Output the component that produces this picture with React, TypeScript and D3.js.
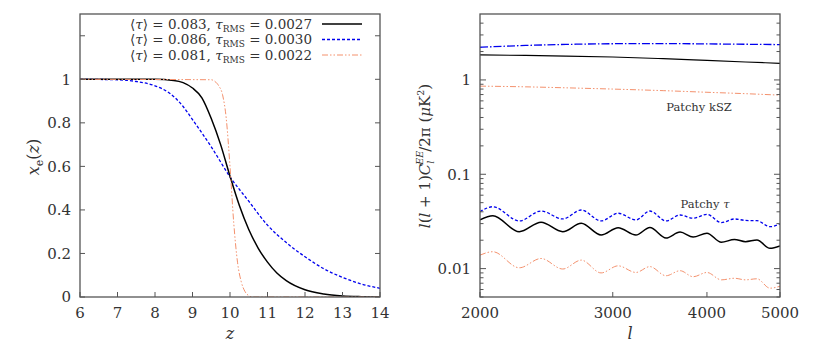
import React from 'react';
import * as d3 from 'd3';

// left panel: ionisation fraction x_e(z)
const zBlack = [6, 7, 8, 8.5, 8.75, 9, 9.25, 9.5, 9.75, 10, 10.25, 10.5, 10.75, 11, 11.25, 11.5, 12, 12.5, 13, 13.5, 14];
const xeBlack = [1, 1, 1, 0.995, 0.985, 0.96, 0.915, 0.82, 0.7, 0.555, 0.42, 0.31, 0.225, 0.16, 0.11, 0.075, 0.033, 0.014, 0.005, 0.0015, 0];
const zBlue = [6, 7, 7.5, 8, 8.4, 8.75, 9, 9.5, 10, 10.5, 11, 11.5, 12, 12.5, 13, 13.5, 14];
const xeBlue = [1, 0.998, 0.99, 0.97, 0.935, 0.875, 0.815, 0.69, 0.552, 0.44, 0.33, 0.25, 0.185, 0.13, 0.09, 0.06, 0.04];
const zOrange = [6, 9.5, 9.6, 9.7, 9.8, 9.9, 10, 10.1, 10.2, 10.3, 10.4, 10.5, 10.6, 14];
const xeOrange = [1, 0.998, 0.99, 0.97, 0.93, 0.82, 0.6, 0.34, 0.16, 0.07, 0.025, 0.006, 0, 0];

const legendTau = ['0.083', '0.086', '0.081'];
const legendRms = ['0.0027', '0.0030', '0.0022'];

const zTicks = [6, 7, 8, 9, 10, 11, 12, 13, 14];
const xeTicks = [0, 0.2, 0.4, 0.6, 0.8, 1, 1.2];
const xeTickLabels = ['0', '0.2', '0.4', '0.6', '0.8', '1', ''];

// right panel: EE spectra
const lKsz = [2000, 2300, 2600, 3000, 3500, 4000, 4500, 5000];
const kszBlack = [1.84, 1.82, 1.79, 1.75, 1.68, 1.61, 1.55, 1.5];
const kszBlue = [2.22, 2.32, 2.38, 2.42, 2.43, 2.41, 2.39, 2.37];
const kszOrange = [0.86, 0.845, 0.825, 0.8, 0.77, 0.74, 0.715, 0.69];

const lTau = [2000, 2080, 2255, 2410, 2575, 2725, 2895, 3050, 3220, 3360, 3530, 3685, 3835, 4000, 4180, 4350, 4500, 4660, 4850, 5000];
const tauBlack = [0.0328, 0.0364, 0.0246, 0.031, 0.0246, 0.0302, 0.0227, 0.0271, 0.0227, 0.0273, 0.0211, 0.0244, 0.0216, 0.0237, 0.019, 0.0204, 0.0193, 0.0201, 0.0164, 0.0174];
const tauBlue = [0.0401, 0.0453, 0.032, 0.0408, 0.0336, 0.0418, 0.032, 0.0386, 0.0328, 0.0408, 0.032, 0.037, 0.0342, 0.0376, 0.0307, 0.0336, 0.0324, 0.0322, 0.0278, 0.0297];
const tauOrange = [0.0139, 0.0151, 0.0102, 0.0128, 0.0099, 0.0123, 0.009, 0.0107, 0.0091, 0.0105, 0.0084, 0.0095, 0.0082, 0.0091, 0.0076, 0.0079, 0.0076, 0.0078, 0.0062, 0.0065];

const lTicks = [2000, 3000, 4000, 5000];
const clMajor = [0.01, 0.1, 1];
const clMajorLabels = ['0.01', '0.1', '1'];
const clMinor = [0.005, 0.006, 0.007, 0.008, 0.009, 0.02, 0.03, 0.04, 0.05, 0.06, 0.07, 0.08, 0.09, 0.2, 0.3, 0.4, 0.5, 0.6, 0.7, 0.8, 0.9, 2, 3, 4];

const BLUE = '#0000ee';
const ORANGE = '#f4916d';
const TEXT = '#333';
const FRAME = '#555';
const FONT = "'DejaVu Serif', 'Liberation Serif', serif";

const left = { x0: 80, x1: 380, y0: 14, y1: 297 };
const right = { x0: 480, x1: 780, y0: 14, y1: 297 };

export default function App() {
    const x = d3.scaleLinear().domain([6, 14]).range([left.x0, left.x1]);
    const y = d3.scaleLinear().domain([0, 1.3]).range([left.y1, left.y0]);
    const lx = d3.scaleLog().domain([2000, 5000]).range([right.x0, right.x1]);
    const ly = d3.scaleLog().domain([0.005, 5]).range([right.y1, right.y0]);

    const xeLine = (zs: number[], vs: number[]) =>
        d3.line<number>()
            .x((d, i) => x(zs[i]))
            .y((d) => y(d))
            .curve(d3.curveMonotoneX)(vs) || '';
    const clLine = (ls: number[], vs: number[]) =>
        d3.line<number>()
            .x((d, i) => lx(ls[i]))
            .y((d) => ly(d))
            .curve(d3.curveMonotoneX)(vs) || '';

    const legendStyles = [
        { stroke: '#000', width: 1.5, dash: undefined },
        { stroke: BLUE, width: 1.3, dash: '3,2' },
        { stroke: ORANGE, width: 1, dash: '6,2,1.5,2,1.5,2' },
    ];

    return (
        <svg width={821} height={347} style={{ position: 'absolute', left: 0, top: 0, background: '#fff', fontFamily: FONT }}>
            <defs>
                <clipPath id="clipL">
                    <rect x={left.x0} y={left.y0} width={left.x1 - left.x0} height={left.y1 - left.y0} />
                </clipPath>
                <clipPath id="clipR">
                    <rect x={right.x0} y={right.y0} width={right.x1 - right.x0} height={right.y1 - right.y0} />
                </clipPath>
            </defs>

            {/* ---------- left panel ---------- */}
            <g clipPath="url(#clipL)" fill="none">
                <path d={xeLine(zBlue, xeBlue)} stroke={BLUE} strokeWidth={1.3} strokeDasharray="3,2" />
                <path d={xeLine(zBlack, xeBlack)} stroke="#000" strokeWidth={1.5} />
                <path d={xeLine(zOrange, xeOrange)} stroke={ORANGE} strokeWidth={1} strokeDasharray="6,2,1.5,2,1.5,2" />
            </g>
            {zTicks.map((t) => (
                <g key={'zt' + t}>
                    <line x1={x(t)} x2={x(t)} y1={left.y1} y2={left.y1 - 5} stroke={FRAME} />
                    <text x={x(t)} y={left.y1 + 21} textAnchor="middle" fontSize={15} fill={TEXT}>{t}</text>
                </g>
            ))}
            {xeTicks.map((t, i) => (
                <g key={'yt' + t}>
                    <line x1={left.x0} x2={left.x0 + 5} y1={y(t)} y2={y(t)} stroke={FRAME} />
                    <line x1={left.x1} x2={left.x1 - 5} y1={y(t)} y2={y(t)} stroke={FRAME} />
                    <text x={left.x0 - 9} y={y(t)} dy="0.35em" textAnchor="end" fontSize={15} fill={TEXT}>{xeTickLabels[i]}</text>
                </g>
            ))}
            <rect x={left.x0} y={left.y0} width={left.x1 - left.x0} height={left.y1 - left.y0} fill="none" stroke={FRAME} strokeWidth={1.3} />
            <text x={(left.x0 + left.x1) / 2} y={339} textAnchor="middle" fontSize={16} fontStyle="italic" fill={TEXT}>z</text>
            <text transform="translate(39,157) rotate(-90)" textAnchor="middle" fontSize={16} fill={TEXT}>
                <tspan fontStyle="italic">x</tspan>
                <tspan fontSize={11} dy={4}>e</tspan>
                <tspan dy={-4}>(</tspan>
                <tspan fontStyle="italic">z</tspan>
                <tspan>)</tspan>
            </text>

            {legendTau.map((tau, i) => {
                const ry = 24 + i * 15.5;
                const st = legendStyles[i];
                return (
                    <g key={'lg' + i}>
                        <text x={312} y={ry} dy="0.35em" textAnchor="end" fontSize={13.5} fill={TEXT}>
                            <tspan>⟨</tspan>
                            <tspan fontStyle="italic">τ</tspan>
                            <tspan>{'⟩ = ' + tau + ', '}</tspan>
                            <tspan fontStyle="italic">τ</tspan>
                            <tspan fontSize={9} dy={3}>RMS</tspan>
                            <tspan dy={-3}>{' = ' + legendRms[i]}</tspan>
                        </text>
                        <line x1={322} x2={362} y1={ry} y2={ry} stroke={st.stroke} strokeWidth={st.width} strokeDasharray={st.dash} />
                    </g>
                );
            })}

            {/* ---------- right panel ---------- */}
            <g clipPath="url(#clipR)" fill="none">
                <path d={clLine(lKsz, kszBlue)} stroke={BLUE} strokeWidth={1.3} strokeDasharray="8,2,1.5,2" />
                <path d={clLine(lKsz, kszBlack)} stroke="#000" strokeWidth={1.2} />
                <path d={clLine(lKsz, kszOrange)} stroke={ORANGE} strokeWidth={1} strokeDasharray="6,2,1.5,2,1.5,2" />
                <path d={clLine(lTau, tauBlue)} stroke={BLUE} strokeWidth={1.3} strokeDasharray="3,2" />
                <path d={clLine(lTau, tauBlack)} stroke="#000" strokeWidth={1.5} />
                <path d={clLine(lTau, tauOrange)} stroke={ORANGE} strokeWidth={1} strokeDasharray="6,2,1.5,2,1.5,2" />
            </g>
            {lTicks.map((t) => (
                <g key={'lt' + t}>
                    <line x1={lx(t)} x2={lx(t)} y1={right.y1} y2={right.y1 - 5} stroke={FRAME} />
                    <text x={lx(t)} y={right.y1 + 21} textAnchor="middle" fontSize={15} fill={TEXT}>{t}</text>
                </g>
            ))}
            {clMajor.map((t, i) => (
                <g key={'cm' + t}>
                    <line x1={right.x0} x2={right.x0 + 6} y1={ly(t)} y2={ly(t)} stroke={FRAME} />
                    <line x1={right.x1} x2={right.x1 - 6} y1={ly(t)} y2={ly(t)} stroke={FRAME} />
                    <text x={right.x0 - 9} y={ly(t)} dy="0.35em" textAnchor="end" fontSize={15} fill={TEXT}>{clMajorLabels[i]}</text>
                </g>
            ))}
            {clMinor.map((t) => (
                <g key={'cn' + t}>
                    <line x1={right.x0} x2={right.x0 + 3.5} y1={ly(t)} y2={ly(t)} stroke={FRAME} />
                    <line x1={right.x1} x2={right.x1 - 3.5} y1={ly(t)} y2={ly(t)} stroke={FRAME} />
                </g>
            ))}
            <rect x={right.x0} y={right.y0} width={right.x1 - right.x0} height={right.y1 - right.y0} fill="none" stroke={FRAME} strokeWidth={1.3} />
            <text x={699} y={107} dy="0.35em" textAnchor="middle" fontSize={11.5} fill={TEXT}>Patchy kSZ</text>
            <text x={705} y={204} dy="0.35em" textAnchor="middle" fontSize={11.5} fill={TEXT}>
                Patchy <tspan fontStyle="italic">τ</tspan>
            </text>
            <text x={(right.x0 + right.x1) / 2} y={339} textAnchor="middle" fontSize={16} fontStyle="italic" fill={TEXT}>l</text>
            <text transform="translate(430,156) rotate(-90)" textAnchor="middle" fontSize={15} fill={TEXT}>
                <tspan fontStyle="italic">l</tspan>
                <tspan>(</tspan>
                <tspan fontStyle="italic">l</tspan>
                <tspan>{' + 1)'}</tspan>
                <tspan fontStyle="italic">C</tspan>
                <tspan fontSize={9.5} fontStyle="italic" dx={-1} dy={-7}>EE</tspan>
                <tspan fontSize={9.5} fontStyle="italic" dx={-13} dy={11}>l</tspan>
                <tspan dx={9} dy={-4}>/2π (</tspan>
                <tspan fontStyle="italic">μ</tspan>
                <tspan>K</tspan>
                <tspan fontSize={9.5} dy={-6}>2</tspan>
                <tspan dy={6}>)</tspan>
            </text>
        </svg>
    );
}
